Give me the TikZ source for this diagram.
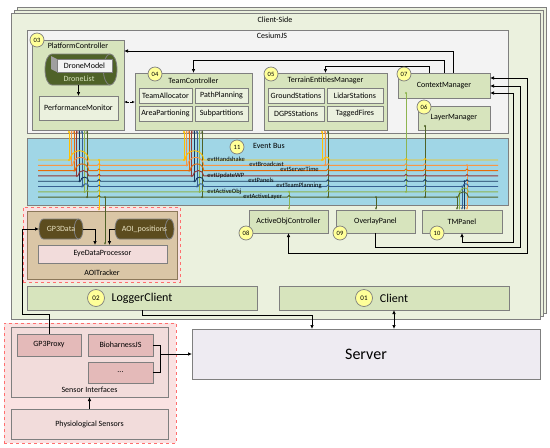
\documentclass[tikz,border=0pt]{standalone}
\usepackage{fontspec}
\setmainfont{Carlito}
\usetikzlibrary{arrows.meta}
\definecolor{edgegray}{RGB}{127,127,127}
\definecolor{framegreen}{RGB}{235,241,222}
\definecolor{cesgray}{RGB}{243,243,243}
\definecolor{boxgreen}{RGB}{215,228,189}
\definecolor{subgreen}{RGB}{235,241,222}
\definecolor{busblue}{RGB}{160,214,230}
\definecolor{badgeyellow}{RGB}{255,255,153}
\definecolor{dronegreen}{RGB}{79,98,40}
\definecolor{aoitan}{RGB}{218,198,166}
\definecolor{aoiedge}{RGB}{140,120,90}
\definecolor{cylbrown}{RGB}{92,76,30}
\definecolor{cyltext}{RGB}{235,228,196}
\definecolor{pinklight}{RGB}{250,226,226}
\definecolor{pinkmid}{RGB}{242,220,219}
\definecolor{pinkdark}{RGB}{228,186,185}
\definecolor{dashred}{RGB}{255,110,110}
\definecolor{serverlilac}{RGB}{238,235,242}
\definecolor{ev0}{RGB}{255,192,0}
\definecolor{ev1}{RGB}{247,150,70}
\definecolor{ev2}{RGB}{228,108,10}
\definecolor{ev3}{RGB}{149,55,53}
\definecolor{ev4}{RGB}{23,55,94}
\definecolor{ev5}{RGB}{55,96,146}
\definecolor{ev6}{RGB}{142,180,80}
\definecolor{ev7}{RGB}{79,98,40}
\tikzset{
	cbox/.style={draw=edgegray, line width=0.8pt, inner sep=0pt, outer sep=0pt, font=\fontsize{8}{9}\selectfont},
	modbox/.style={cbox, fill=boxgreen},
	subbox/.style={cbox, fill=subgreen},
	badge/.style={circle, draw=edgegray, fill=badgeyellow, inner sep=0pt, minimum size=14pt, font=\fontsize{6.5}{7}\selectfont},
	bigbadge/.style={badge, minimum size=17pt, font=\fontsize{7}{8}\selectfont},
	lbl/.style={font=\fontsize{8}{9}\selectfont, inner sep=0pt},
	evlbl/.style={font=\fontsize{6.5}{7}\selectfont, inner sep=0pt, anchor=base west},
	arr/.style={-{Latex[length=4pt,width=3.5pt]}},
	arrs/.style={{Latex[length=4pt,width=3.5pt]}-{Latex[length=4pt,width=3.5pt]}},
	subarr/.style={{Latex[length=2.5pt,width=2.2pt]}-},
	pubarr/.style={-{Latex[length=2.5pt,width=2.2pt]}},
	evline/.style={line width=0.9pt},
}
% box from corners: name, x1, y1, x2, y2, style, text
\newcommand{\boxnode}[7]{%
	\node[#6, minimum width={(#4-#2)*1pt}, minimum height={(#5-#3)*1pt}] (#1) at ({(#2+#4)/2},{(#3+#5)/2}) {#7};}
% lying cylinder: name, x1, y1, x2, y2, fill, text colour, text
\newcommand{\cylnode}[8]{%
	\pgfmathsetmacro\cylrad{0.22*(#5-#3)}
	\draw[draw=edgegray, line width=0.8pt, fill=#6] ({#2+\cylrad},#3) -- ({#4-\cylrad},#3)
		arc[start angle=-90, end angle=90, x radius=\cylrad, y radius={(#5-#3)/2}] -- ({#2+\cylrad},#5)
		arc[start angle=90, end angle=270, x radius=\cylrad, y radius={(#5-#3)/2}] -- cycle;
	\draw[draw=edgegray, line width=0.8pt] ({#4-\cylrad},#3) arc[start angle=270, end angle=90, x radius=\cylrad, y radius={(#5-#3)/2}];
	\node[cbox, draw=none, text=#7, minimum width={(#4-#2)*1pt}, minimum height={(#5-#3)*1pt}] (#1) at ({(#2+#4)/2},{(#3+#5)/2}) {#8};}
% line jump on the event bus
\newcommand{\bushop}[3]{-- (#1,#3) arc[start angle=180, end angle=360, radius={(#2-#1)/2}]}

\begin{document}
\begin{tikzpicture}[x=1pt,y=-1pt,line width=0.7pt]
	\useasboundingbox (0,0) rectangle (550,448);
	% client side stack
	\draw[draw=edgegray, fill=framegreen, line width=0.8pt] (17,7) rectangle (546,313);
	\draw[draw=edgegray, fill=framegreen, line width=0.8pt] (14,10) rectangle (543,316);
	\boxnode{cs}{11}{13}{540}{319}{cbox, fill=framegreen}{}
	\node[lbl] (cslbl) at (275,20) {Client-Side};
	\boxnode{ces}{27}{30}{508}{133}{cbox, fill=cesgray}{}
	\node[lbl] (ceslbl) at (272,36) {CesiumJS};

	% platform controller
	\boxnode{pc}{32}{40}{124}{130}{modbox}{}
	\node[lbl] (pclbl) at (78,45.5) {PlatformController};
	\cylnode{dl}{45}{54}{117}{85}{dronegreen}{boxgreen}{}
	\fill[gray!75] (51,56) -- (57,59) -- (57,72) -- (51,69) -- cycle;
	\boxnode{dm}{57}{59}{112}{72}{cbox, fill=cesgray}{DroneModel}
	\node[lbl, text=boxgreen] (dllbl) at (79,78.5) {DroneList};
	\boxnode{pm}{39}{96}{118}{120}{subbox}{PerformanceMonitor}
	\draw[arr] (pm.north |- dl.south) -- (pm.north);

	% team controller
	\boxnode{tc}{135}{73}{252}{130}{modbox}{}
	\node[lbl] (tclbl) at (193.5,80.5) {TeamController};
	\boxnode{ta}{139}{88}{192}{103}{subbox}{TeamAllocator}
	\boxnode{pp}{195}{88}{248}{103}{subbox}{PathPlanning}
	\boxnode{ap}{139}{106}{192}{121}{subbox}{AreaPartioning}
	\boxnode{sp}{195}{106}{248}{121}{subbox}{Subpartitions}

	% terrain entities manager
	\boxnode{tem}{264}{73}{387}{130}{modbox}{}
	\node[lbl] (temlbl) at (325.5,80.5) {TerrainEntitiesManager};
	\boxnode{gs}{268}{88}{324}{103}{subbox}{GroundStations}
	\boxnode{ls}{327}{88}{383}{103}{subbox}{LidarStations}
	\boxnode{dg}{268}{106}{324}{121}{subbox}{DGPSStations}
	\boxnode{tf}{327}{106}{383}{121}{subbox}{TaggedFires}

	\boxnode{cm}{398}{73}{490}{98}{modbox}{ContextManager}
	\boxnode{lm}{418}{106}{490}{130}{modbox}{LayerManager}

	% event bus
	\boxnode{bus}{27}{138}{508}{205}{cbox, fill=busblue}{}
	\node[lbl] (buslbl) at (269,146) {Event Bus};

	\boxnode{aoc}{249}{210}{328}{233}{modbox}{ActiveObjController}
	\boxnode{op}{336}{210}{415}{233}{modbox}{OverlayPanel}
	\boxnode{tmp}{422}{210}{502}{233}{modbox}{TMPanel}

	% aoi tracker
	\boxnode{aoio}{23}{207}{180}{282}{cbox, draw=dashred, dashed, fill=pinklight}{}
	\boxnode{aoit}{27}{211}{177}{279}{cbox, draw=aoiedge, fill=aoitan}{}
	\node[lbl] (aoitlbl) at (102,273) {AOITracker};
	\cylnode{gp}{39}{219}{83}{239}{cylbrown}{cyltext}{GP3Data}
	\cylnode{aoi}{115}{219}{174}{239}{cylbrown}{cyltext}{AOI\_positions}
	\boxnode{edp}{38}{245}{167}{263}{cbox, fill=pinkmid}{EyeDataProcessor}

	\boxnode{lc}{27}{286}{257}{310}{modbox, font=\fontsize{12}{13}\selectfont}{LoggerClient}
	\boxnode{cl}{279}{286}{509}{310}{modbox, font=\fontsize{12}{13}\selectfont}{Client}
	\boxnode{srv}{192}{329}{540}{379}{cbox, fill=serverlilac, font=\fontsize{16}{18}\selectfont}{Server}

	% sensors
	\boxnode{so}{4}{323}{176}{443}{cbox, draw=dashred, dashed, fill=pinklight}{}
	\boxnode{si}{11}{327}{168}{397}{cbox, fill=pinkmid}{}
	\node[lbl] (silbl) at (89.5,390) {Sensor Interfaces};
	\boxnode{gpp}{17}{334}{81}{356}{cbox, fill=pinkdark}{GP3Proxy}
	\boxnode{bio}{88}{334}{153}{356}{cbox, fill=pinkdark}{BioharnessJS}
	\boxnode{dots}{88}{362}{153}{383}{cbox, fill=pinkdark}{...}
	\boxnode{phy}{11}{409}{168}{439}{cbox, fill=pinkmid}{Physiological Sensors}

	% subscriptions to the bus
	\foreach \i/\yy in {0/160,1/165.3,2/170.6,3/175.9,4/181.2,5/186.5,6/191.8,7/197.1}{
		\pgfmathsetmacro\xp{69+2.6*\i}
		\pgfmathsetmacro\xt{184+2.6*\i}
		\draw[evline, draw=ev\i, subarr] (pc.south -| \xp,0) -- (\xp,\yy);
		\draw[evline, draw=ev\i, subarr] (tc.south -| \xt,0) -- (\xt,\yy);
	}
	\draw[evline, draw=ev0, subarr] (tem.south -| 322,0) -- (322,160);
	\draw[evline, draw=ev1, subarr] (tem.south -| 325,0) -- (325,165.3);
	\draw[evline, draw=ev7, subarr] (tem.south -| 328,0) -- (328,197.1);
	\draw[evline, draw=ev0, pubarr] (99,160) -- (aoit.north -| 99,0);
	\draw[evline, draw=ev7, pubarr] (105,197.1) -- (edp.north -| 105,0);
	\draw[evline, draw=ev6] (406,93) -- (406,191.8);
	\draw[evline, draw=ev7] (425,126) -- (425,197.1);
	\draw[evline, draw=ev6, pubarr] (289,191.8) -- (aoc.north -| 289,0);
	\draw[evline, draw=ev7, pubarr] (376,197.1) -- (op.north -| 376,0);
	\foreach \c/\xx/\yy in {7/457/197.1,6/459.5/191.8,5/462/186.5,4/464.5/181.2,1/467/165.3}
		\draw[evline, draw=ev\c, subarr] (tmp.north -| \xx,0) -- (\xx,\yy);

	% event lines
	\draw[evline, draw=ev0] (38,160) \bushop{70.1}{88.7}{160} \bushop{185.1}{203.7}{160} \bushop{323.5}{329.5}{160} \bushop{404.4}{407.6}{160} \bushop{423.4}{426.6}{160} -- (498,160);
	\draw[evline, draw=ev1] (38,165.3) \bushop{72.7}{88.7}{165.3} \bushop{97.4}{100.6}{165.3} \bushop{187.7}{203.7}{165.3} \bushop{326.5}{329.5}{165.3} \bushop{404.4}{407.6}{165.3} \bushop{423.4}{426.6}{165.3} -- (498,165.3);
	\draw[evline, draw=ev2] (38,170.6) \bushop{75.3}{88.7}{170.6} \bushop{97.4}{100.6}{170.6} \bushop{190.3}{203.7}{170.6} \bushop{326.5}{329.5}{170.6} \bushop{404.4}{407.6}{170.6} \bushop{423.4}{426.6}{170.6} \bushop{465.5}{468.5}{170.6} -- (498,170.6);
	\draw[evline, draw=ev3] (38,175.9) \bushop{77.9}{88.7}{175.9} \bushop{97.4}{100.6}{175.9} \bushop{192.9}{203.7}{175.9} \bushop{326.5}{329.5}{175.9} \bushop{404.4}{407.6}{175.9} \bushop{423.4}{426.6}{175.9} \bushop{465.5}{468.5}{175.9} -- (498,175.9);
	\draw[evline, draw=ev4] (38,181.2) \bushop{80.5}{88.7}{181.2} \bushop{97.4}{100.6}{181.2} \bushop{195.5}{203.7}{181.2} \bushop{326.5}{329.5}{181.2} \bushop{404.4}{407.6}{181.2} \bushop{423.4}{426.6}{181.2} \bushop{465.5}{468.5}{181.2} -- (498,181.2);
	\draw[evline, draw=ev5] (38,186.5) \bushop{83.1}{88.7}{186.5} \bushop{97.4}{100.6}{186.5} \bushop{198.1}{203.7}{186.5} \bushop{326.5}{329.5}{186.5} \bushop{404.4}{407.6}{186.5} \bushop{423.4}{426.6}{186.5} \bushop{463}{468.5}{186.5} -- (498,186.5);
	\draw[evline, draw=ev6] (38,191.8) \bushop{85.7}{88.7}{191.8} \bushop{97.4}{100.6}{191.8} \bushop{200.7}{203.7}{191.8} \bushop{326.5}{329.5}{191.8} \bushop{423.4}{426.6}{191.8} \bushop{460.5}{468.5}{191.8} -- (498,191.8);
	\draw[evline, draw=ev7] (38,197.1) \bushop{97.4}{100.6}{197.1} \bushop{287.4}{290.6}{197.1} \bushop{458}{468.5}{197.1} -- (498,197.1);

	% junction dots
	\foreach \i/\yy in {0/160,1/165.3,2/170.6,3/175.9,4/181.2,5/186.5,6/191.8,7/197.1}{
		\fill[fill=ev\i] ({69+2.6*\i},\yy) circle (1.1) ({184+2.6*\i},\yy) circle (1.1);
	}
	\foreach \c/\xx/\yy in {0/322/160,1/325/165.3,7/328/197.1,0/99/160,7/105/197.1,6/406/191.8,6/406/93,7/425/197.1,7/425/126,6/289/191.8,7/376/197.1,7/457/197.1,6/459.5/191.8,5/462/186.5,4/464.5/181.2,1/467/165.3}
		\fill[fill=ev\c] (\xx,\yy) circle (1.1);

	% event names
	\node[evlbl] (e0) at (207,161.3) {evtHandshake};
	\node[evlbl] (e1) at (249,166.6) {evtBroadcast};
	\node[evlbl] (e2) at (280,171.9) {evtServerTime};
	\node[evlbl] (e3) at (207,177.2) {evtUpdateWP};
	\node[evlbl] (e4) at (248,182.5) {evtPanels};
	\node[evlbl] (e5) at (276,187.8) {evtTeamPlanning};
	\node[evlbl] (e6) at (207,193.1) {evtActiveObj};
	\node[evlbl] (e7) at (243,198.4) {evtActiveLayer};

	% connectors
	\draw[arr] (cm.north -| 453,0) |- (pc.east |- 0,51);
	\draw[arr] (cm.north -| 444,0) |- (tc.north |- 0,60) -- (tc.north);
	\draw[arr] (cm.north -| 429,0) |- (tem.north |- 0,66) -- (tem.north);
	\draw[arrs] (aoc.south) |- (527,253) |- (cm.east |- 0,78);
	\draw[arr] (op.south) |- (520,247) |- (cm.east |- 0,86);
	\draw[arrs] (tmp.south -| 462,0) |- (513,242) |- (cm.east |- 0,93);
	\draw[{Latex[length=3pt,width=2.5pt]}-{Latex[length=3pt,width=2.5pt]}, dash pattern=on 2pt off 1.5pt] (pc.east |- 0,102) -- (tc.west |- 0,102);
	\draw[arr] (gp.east) -| ([xshift=-7.5pt]edp.north);
	\draw[arr] (aoi.west) -| ([xshift=7pt]edp.north);
	\draw[arr] (gpp.north) |- (22,314) |- (gp.west);
	\draw (bio.east) -| (160,372.5) -- (dots.east);
	\coordinate (jn) at (160,354);
	\draw[arr] (jn) -- (srv.west |- jn);
	\draw[arr] (phy.north) -- (si.south);
	\draw[arr] (lc.south) |- (312,315) -- (srv.north -| 312,0);
	\draw[arrs] (cl.south) -- (srv.north -| cl.south);

	% badges
	\node[badge] (b03) at (37,40) {03};
	\node[badge] (b04) at (155,74) {04};
	\node[badge] (b05) at (271,74) {05};
	\node[badge] (b07) at (404,74) {07};
	\node[badge] (b06) at (424,107) {06};
	\node[badge] (b11) at (237,147) {11};
	\node[badge] (b08) at (246,233) {08};
	\node[badge] (b09) at (340,233) {09};
	\node[badge] (b10) at (437,233) {10};
	\node[bigbadge] (b02) at (96,298) {02};
	\node[bigbadge] (b01) at (364,298) {01};
\end{tikzpicture}
\end{document}
